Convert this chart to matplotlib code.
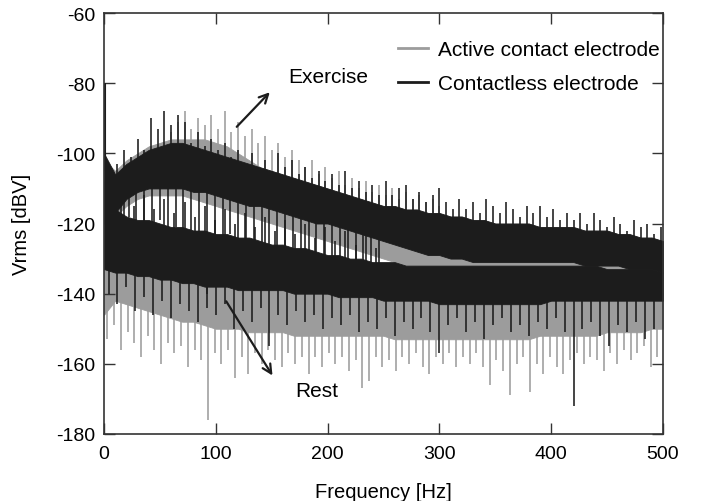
import numpy as np
import matplotlib.pyplot as plt

plt.rcParams['font.family'] = ['Liberation Sans', 'DejaVu Sans']
plt.rcParams['axes.unicode_minus'] = False

# frequency grid of the envelope readings [Hz]
freq = np.arange(0, 501, 10)

# dense core of each trace [dBV] (top / bottom)
ex_black_hi = [-100, -106, -103, -101, -99, -98, -97, -97, -98, -99, -100, -101, -102, -103, -104,
               -105, -106, -107, -108, -109, -110, -111, -112, -113, -114, -115, -115, -116, -116,
               -117, -117, -118, -118, -119, -119, -120, -120, -120, -120, -121, -121, -121, -121,
               -122, -122, -122, -123, -123, -124, -124, -125]
ex_black_lo = [-120, -117, -113, -111, -110, -110, -110, -110, -111, -111, -112, -113, -114, -115, -115,
               -116, -117, -118, -119, -120, -120, -121, -122, -123, -124, -125, -126, -127, -128,
               -129, -129, -130, -130, -131, -131, -131, -131, -131, -131, -131, -131, -131, -131,
               -132, -132, -132, -132, -133, -133, -133, -134]
rest_black_hi = [-108, -116, -118, -119, -119, -120, -121, -121, -122, -122, -123, -123, -124, -124, -125,
                 -126, -126, -127, -127, -128, -129, -129, -130, -130, -131, -131, -131, -132, -132,
                 -132, -132, -132, -132, -132, -132, -132, -132, -132, -132, -132, -132, -132, -132,
                 -132, -132, -133, -133, -133, -133, -133, -134]
rest_black_lo = [-133, -134, -134, -135, -135, -136, -136, -137, -137, -138, -138, -138, -139, -139, -139,
                 -139, -139, -140, -140, -140, -140, -141, -141, -141, -141, -142, -142, -142, -142,
                 -142, -143, -143, -143, -143, -143, -143, -143, -143, -143, -143, -142, -142, -142,
                 -142, -142, -142, -142, -142, -142, -142, -142]
ex_gray_hi = [-102, -105, -102, -100, -98, -97, -96, -96, -96, -96, -97, -98, -100, -102, -104,
              -105, -106, -107, -108, -109, -110, -111, -112, -113, -114, -115, -115, -116, -116,
              -117, -117, -118, -118, -119, -119, -120, -120, -120, -120, -121, -121, -121, -121,
              -122, -122, -122, -123, -123, -124, -124, -125]
ex_gray_lo = [-120, -118, -115, -113, -112, -112, -112, -112, -113, -114, -115, -116, -117, -118, -119,
              -120, -121, -122, -123, -124, -125, -126, -127, -128, -129, -130, -131, -132, -132,
              -133, -133, -134, -134, -134, -134, -134, -134, -134, -134, -134, -134, -134, -134,
              -135, -135, -135, -135, -135, -136, -136, -136]
rest_gray_hi = [-125, -127, -128, -129, -129, -130, -131, -131, -132, -132, -133, -133, -134, -134, -135,
                -135, -135, -136, -136, -136, -137, -137, -137, -138, -138, -138, -138, -139, -139,
                -139, -139, -139, -139, -139, -139, -139, -139, -139, -139, -139, -139, -139, -139,
                -139, -139, -139, -139, -139, -139, -139, -139]
rest_gray_lo = [-146, -142, -143, -144, -145, -146, -147, -148, -148, -149, -150, -150, -150, -151, -151,
                -151, -151, -152, -152, -152, -152, -152, -152, -152, -152, -152, -153, -153, -153,
                -153, -153, -153, -153, -153, -153, -153, -153, -153, -153, -152, -152, -152, -152,
                -152, -152, -151, -151, -151, -151, -150, -150]

# spike tips sticking out of the bands [dBV], on their own frequency grids [Hz]
black_top_x = np.arange(6, 499, 6)
black_top_y = [-108, -103, -99, -101, -96, -99, -90, -93, -88, -92, -89, -91, -97, -94, -98, -96,
               -99, -97, -101, -99, -103, -100, -104, -102, -105, -100, -104, -102, -106, -104,
               -107, -105, -108, -106, -109, -105, -110, -108, -111, -109, -112, -108, -112, -110,
               -109, -113, -111, -114, -112, -110, -114, -116, -113, -116, -114, -117, -113, -115,
               -117, -114, -116, -118, -115, -117, -115, -118, -116, -119, -117, -119, -117, -120,
               -117, -119, -121, -118, -120, -122, -119, -121, -120, -123, -121]
gray_top_x = np.arange(60, 301, 6)
gray_top_y = [-94, -91, -88, -93, -90, -92, -89, -93, -88, -94, -91, -95, -93, -97, -95, -99, -97,
              -101, -99, -102, -104, -102, -106, -104, -107, -105, -109, -107, -110, -108, -111,
              -109, -112, -110, -113, -111, -113, -112, -114, -113, -115]
gray_bot_x = np.arange(3, 500, 6)
gray_bot_y = [-153, -149, -156, -151, -154, -158, -152, -156, -160, -154, -157, -155, -161, -156,
              -159, -176, -157, -160, -156, -164, -158, -163, -157, -160, -156, -159, -161, -157,
              -160, -158, -163, -158, -161, -157, -160, -158, -162, -159, -167, -165, -158, -161,
              -159, -162, -158, -160, -157, -161, -163, -158, -160, -157, -161, -158, -160, -157,
              -161, -166, -159, -162, -169, -160, -158, -168, -160, -163, -158, -161, -163, -159,
              -157, -160, -158, -159, -162, -157, -160, -156, -159, -157, -155, -161, -158]
black_bot_x = np.arange(4, 500, 8)
black_bot_y = [-140, -143, -138, -145, -141, -146, -142, -147, -143, -145, -148, -144, -146, -143,
               -150, -145, -148, -144, -155, -146, -149, -145, -148, -146, -150, -147, -149, -146,
               -151, -148, -150, -147, -152, -148, -150, -147, -151, -157, -149, -147, -151, -148,
               -153, -149, -147, -151, -149, -152, -148, -150, -147, -151, -172, -150, -148, -152,
               -155, -149, -151, -148, -153, -150]
# spikes crossing the gap between the exercise and rest traces
gap_down_x = np.arange(15, 247, 7)
gap_down_y = [-122, -118, -124, -120, -126, -119, -125, -121, -127, -122, -128, -140, -124, -129,
              -123, -130, -125, -131, -126, -132, -127, -133, -128, -134, -129, -135, -130, -136,
              -131, -135, -132, -137, -133, -136]
gap_up_x = np.arange(18, 244, 9)
gap_up_y = [-112, -115, -112, -116, -113, -117, -114, -118, -115, -119, -116, -120, -117, -121,
            -118, -122, -119, -123, -120, -124, -121, -125, -122, -126, -123, -127]

GRAY = '#9c9c9c'
BLACK = '#1c1c1c'


def band(ax, hi, lo, color, z):
    ax.fill_between(freq, lo, hi, color=color, lw=0.6, edgecolor=color, zorder=z)


def spikes(ax, xs, ys, hi, lo, color, z):
    mid = np.interp(xs, freq, (np.array(hi) + np.array(lo)) / 2)
    ax.vlines(xs, mid, ys, color=color, lw=1.15, zorder=z)


fig = plt.figure(figsize=(7.03, 5.02), dpi=100)
ax = fig.add_axes([0.148, 0.1335, 0.795, 0.8385])

band(ax, rest_gray_hi, rest_gray_lo, GRAY, 1)
spikes(ax, gray_bot_x, gray_bot_y, rest_gray_hi, rest_gray_lo, GRAY, 1)
band(ax, ex_gray_hi, ex_gray_lo, GRAY, 1)
spikes(ax, gray_top_x, gray_top_y, ex_gray_hi, ex_gray_lo, GRAY, 1)

band(ax, ex_black_hi, ex_black_lo, BLACK, 2)
spikes(ax, black_top_x, black_top_y, ex_black_hi, ex_black_lo, BLACK, 2)
spikes(ax, gap_down_x, gap_down_y, ex_black_hi, ex_black_lo, BLACK, 2)
band(ax, rest_black_hi, rest_black_lo, BLACK, 2)
spikes(ax, gap_up_x, gap_up_y, rest_black_hi, rest_black_lo, BLACK, 2)
spikes(ax, black_bot_x, black_bot_y, rest_black_hi, rest_black_lo, BLACK, 2)
# DC spike at the very start of the contactless trace
ax.vlines([0.8], -105, -80, color=BLACK, lw=1.5, zorder=2)

# legend handles
ax.plot([], [], color=GRAY, lw=2, label='Active contact electrode')
ax.plot([], [], color=BLACK, lw=2, label='Contactless electrode')
ax.legend(loc='upper left', bbox_to_anchor=(0.526, 0.935), frameon=False, fontsize=15,
          handlelength=1.45, handletextpad=0.45, labelspacing=0.72, borderpad=0, borderaxespad=0)

ax.annotate('', xy=(150, -82), xytext=(117, -93),
            arrowprops=dict(arrowstyle='->', color=BLACK, lw=1.6, mutation_scale=16), zorder=5)
ax.text(165, -78, 'Exercise', fontsize=15, va='center', ha='left')
ax.annotate('', xy=(152, -164), xytext=(108, -141.5),
            arrowprops=dict(arrowstyle='->', color=BLACK, lw=1.6, mutation_scale=16), zorder=5)
ax.text(171, -167.5, 'Rest', fontsize=15, va='center', ha='left')

ax.set_xlim(0, 500)
ax.set_ylim(-180, -60)
ax.set_xticks([0, 100, 200, 300, 400, 500])
ax.set_yticks([-180, -160, -140, -120, -100, -80, -60])
ax.tick_params(direction='in', top=True, right=True, length=8, width=1.0, labelsize=14,
               colors='#333333', pad=6)
ax.tick_params(axis='x', pad=8)
ax.tick_params(labelcolor='black')
for s in ax.spines.values():
    s.set_color('#333333')
    s.set_linewidth(1.2)
ax.set_xlabel('Frequency [Hz]', fontsize=14.5, labelpad=14)
ax.set_ylabel('Vrms [dBV]', fontsize=14.5, labelpad=18)

fig.savefig('out.png', dpi=100)
